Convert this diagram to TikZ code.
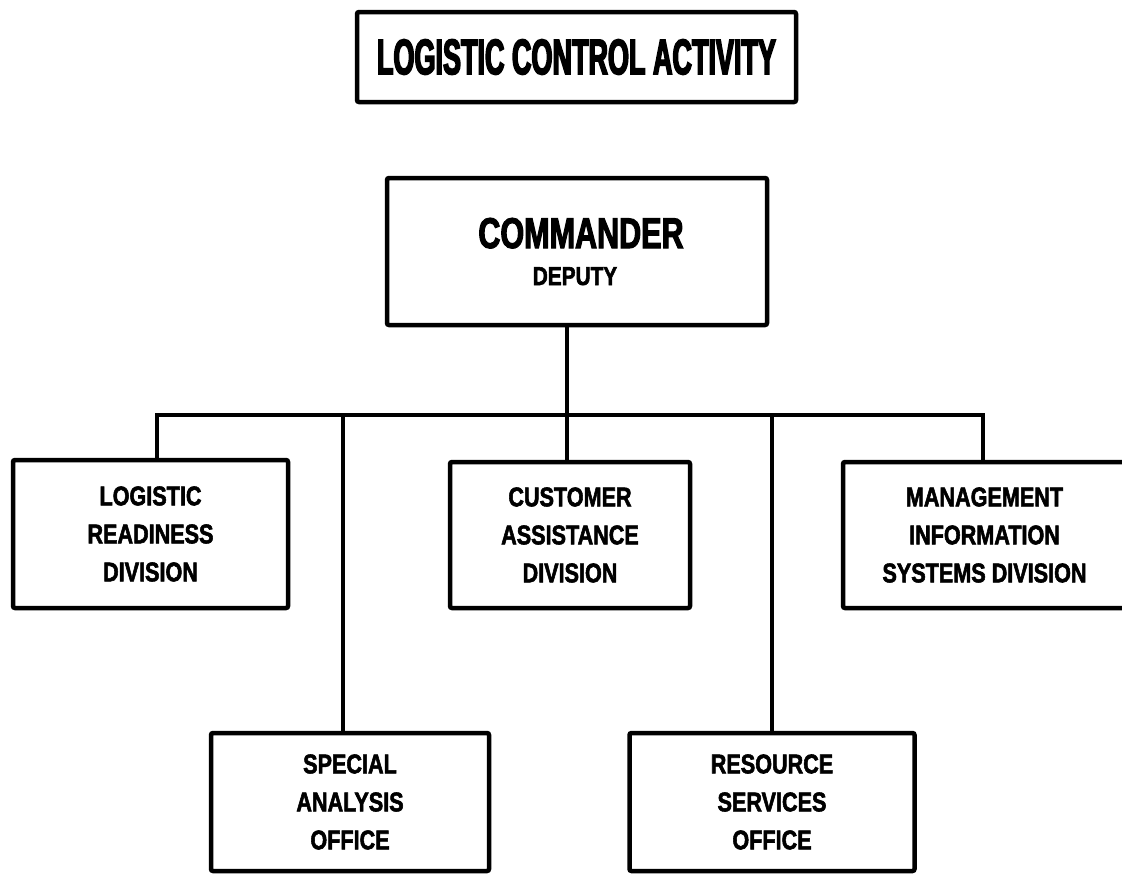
\documentclass[tikz,border=0pt]{standalone}
\usepackage{fontspec}
\newfontfamily\ttlfont{Liberation Sans}[FakeStretch=0.54,FakeBold=3]
\newfontfamily\cmdfont{Liberation Sans}[FakeStretch=0.71,FakeBold=2.5]
\newfontfamily\depfont{Liberation Sans}[FakeStretch=0.80,FakeBold=2]
\newfontfamily\lblfont{Liberation Sans}[FakeStretch=0.80,FakeBold=2]
\begin{document}
\begin{tikzpicture}[x=1pt,y=-1pt,
  orgbox/.style={draw, line width=4.5pt, rounded corners=2pt, inner sep=0pt, align=center},
  lbl/.style={font=\lblfont\bfseries\fontsize{27}{38}\selectfont},
  link/.style={line width=4.5pt}]
  % page
  \fill[white] (0,0) rectangle (1122,873);
  \useasboundingbox (0,0) rectangle (1122,873);

  % heading
  \node[orgbox, minimum width=439, minimum height=90,
        font=\ttlfont\bfseries\fontsize{50}{50}\selectfont] (title) at (576.5,57)
        {LOGISTIC CONTROL ACTIVITY};

  % command block
  \node[orgbox, minimum width=380, minimum height=147] (cmd) at (577,251.5) {};
  \node[font=\cmdfont\bfseries\fontsize{43}{43}\selectfont, inner sep=0pt, anchor=base] (cmdname) at (581,248) {COMMANDER};
  \node[font=\depfont\bfseries\fontsize{26}{26}\selectfont, inner sep=0pt, anchor=base] (cmddep) at (575,285) {DEPUTY};

  % divisions
  \node[orgbox, lbl, minimum width=275, minimum height=148] (lrd) at (150.5,534) {LOGISTIC\\READINESS\\DIVISION};
  \node[orgbox, lbl, minimum width=240, minimum height=146] (cad) at (570,535) {CUSTOMER\\ASSISTANCE\\DIVISION};
  \node[orgbox, lbl, minimum width=283, minimum height=146] (mis) at (984.5,535) {MANAGEMENT\\INFORMATION\\SYSTEMS DIVISION};

  % offices
  \node[orgbox, lbl, minimum width=278, minimum height=138] (sao) at (350,802) {SPECIAL\\ANALYSIS\\OFFICE};
  \node[orgbox, lbl, minimum width=285, minimum height=138] (rso) at (772,802) {RESOURCE\\SERVICES\\OFFICE};

  % distribution bus
  \coordinate (b1) at (157,415);
  \coordinate (b2) at (343,415);
  \coordinate (b3) at (567,415);
  \coordinate (b4) at (772,415);
  \coordinate (b5) at (983,415);

  \draw[link] (b3 |- cmd.south) -- (b3 |- cad.north);
  \draw[link, line join=miter] (b1 |- lrd.north) -- (b1) -- (b5) -- (b5 |- mis.north);
  \draw[link] (b2) -- (b2 |- sao.north);
  \draw[link] (b4) -- (b4 |- rso.north);
\end{tikzpicture}
\end{document}
